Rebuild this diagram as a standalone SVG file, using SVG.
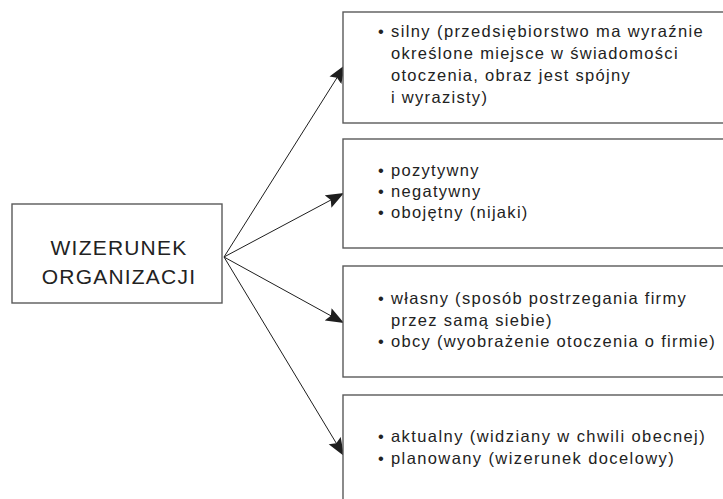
<svg xmlns="http://www.w3.org/2000/svg" width="723" height="499" viewBox="0 0 723 499">
  <style>
    .box { fill: #ffffff; stroke: #5a5a5a; stroke-width: 1.4; }
    .label { font-family: "Liberation Sans", Arial, sans-serif; font-size: 21px; letter-spacing: 1.2px; fill: #222222; text-anchor: middle; }
    .item { font-family: "Liberation Sans", Arial, sans-serif; font-size: 16.5px; letter-spacing: 1.3px; fill: #222222; }
    .link { stroke: #1e1e1e; stroke-width: 1; fill: none; marker-end: url(#head); }
  </style>
  <defs>
    <marker id="head" markerUnits="userSpaceOnUse" markerWidth="19" markerHeight="15" refX="18" refY="7" orient="auto">
      <path d="M0,0 L18,7 L0,14 L3,7 Z" fill="#1e1e1e"/>
    </marker>
  </defs>

  <rect width="723" height="499" fill="#ffffff"/>

  <!-- connectors fanning out from the central node -->
  <g id="connectors">
    <line class="link" x1="224" y1="257" x2="345" y2="65"/>
    <line class="link" x1="224" y1="257" x2="344" y2="193"/>
    <line class="link" x1="224" y1="257" x2="344" y2="323"/>
    <line class="link" x1="224" y1="257" x2="344" y2="456"/>
  </g>

  <g id="center">
    <rect class="box" x="12" y="204" width="210" height="99"/>
    <text class="label" x="119" y="255">WIZERUNEK</text>
    <text class="label" x="119" y="284">ORGANIZACJI</text>
  </g>

  <g id="strength">
    <rect class="box" x="343" y="12" width="400" height="111"/>
    <text class="item" x="378" y="37">•</text>
    <text class="item" x="391" y="37" textLength="313" lengthAdjust="spacing">silny (przedsiębiorstwo ma wyraźnie</text>
    <text class="item" x="391" y="59">określone miejsce w świadomości</text>
    <text class="item" x="391" y="81">otoczenia, obraz jest spójny</text>
    <text class="item" x="391" y="103">i wyrazisty)</text>
  </g>

  <g id="valence">
    <rect class="box" x="343" y="139" width="400" height="109"/>
    <text class="item" x="378" y="176">•</text>
    <text class="item" x="391" y="176">pozytywny</text>
    <text class="item" x="378" y="197">•</text>
    <text class="item" x="391" y="197">negatywny</text>
    <text class="item" x="378" y="218">•</text>
    <text class="item" x="391" y="218">obojętny (nijaki)</text>
  </g>

  <g id="perspective">
    <rect class="box" x="343" y="266" width="400" height="111"/>
    <text class="item" x="378" y="304">•</text>
    <text class="item" x="391" y="304" textLength="296" lengthAdjust="spacing">własny (sposób postrzegania firmy</text>
    <text class="item" x="391" y="326">przez samą siebie)</text>
    <text class="item" x="378" y="347">•</text>
    <text class="item" x="391" y="347">obcy (wyobrażenie otoczenia o firmie)</text>
  </g>

  <g id="timeframe">
    <rect class="box" x="343" y="395" width="400" height="120"/>
    <text class="item" x="378" y="442">•</text>
    <text class="item" x="391" y="442" textLength="315" lengthAdjust="spacing">aktualny (widziany w chwili obecnej)</text>
    <text class="item" x="378" y="464">•</text>
    <text class="item" x="391" y="464" textLength="284" lengthAdjust="spacing">planowany (wizerunek docelowy)</text>
  </g>
</svg>
